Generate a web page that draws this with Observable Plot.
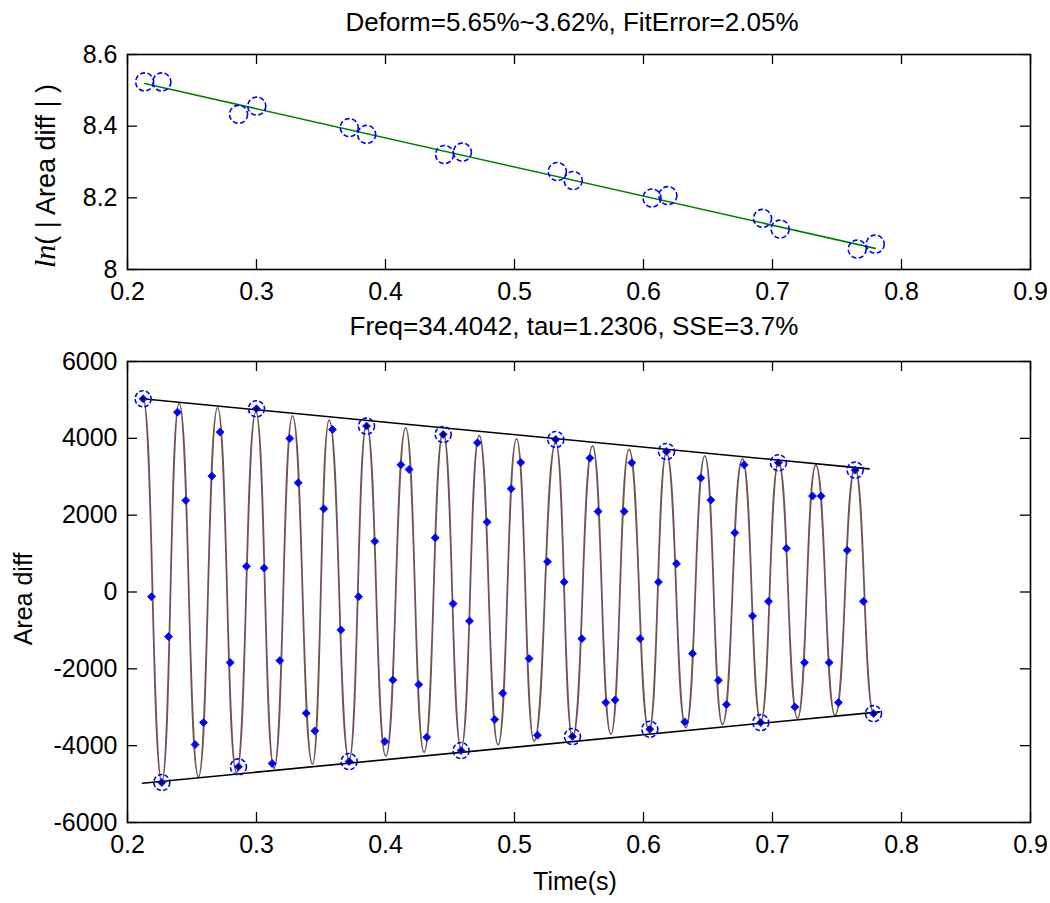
<!DOCTYPE html>
<html>
<head>
<meta charset="utf-8">
<script src="https://cdn.jsdelivr.net/npm/d3@7"></script>
<script src="https://cdn.jsdelivr.net/npm/@observablehq/plot@0.6"></script>
<style>
  html, body { margin: 0; padding: 0; background: #fff; }
  #wrap { position: relative; width: 1050px; height: 903px; background: #fff; overflow: hidden;
          font-family: Arial, "Liberation Sans", sans-serif; color: #000; }
  .abs { position: absolute; white-space: nowrap; line-height: 1; }
  .ctr { transform: translateX(-50%); }
  .rot { transform: translate(-50%, -50%) rotate(-90deg); }
  svg { overflow: visible; }
</style>
</head>
<body>
<div id="wrap">
  <div id="topPlot" class="abs" style="left:0;top:0"></div>
  <div id="botPlot" class="abs" style="left:0;top:312px"></div>
  <div class="abs ctr" style="left:572px;top:9px;font-size:26px">Deform=5.65%~3.62%, FitError=2.05%</div>
  <div class="abs ctr" style="left:574px;top:313px;font-size:26px">Freq=34.4042, tau=1.2306, SSE=3.7%</div>
  <div class="abs ctr" style="left:575px;top:869px;font-size:25px">Time(s)</div>
  <div class="abs rot" style="left:23px;top:599px;font-size:25px">Area diff</div>
  <div class="abs rot" style="left:45px;top:176px;font-size:27px"><span style="font-family:'Liberation Serif','DejaVu Serif',serif;font-style:italic;font-size:30px">ln</span>( | Area diff | )</div>
</div>
<script>
// ---------- axis ticks ----------
const xTicks = [0.2, 0.3, 0.4, 0.5, 0.6, 0.7, 0.8, 0.9];
const xTickLabels = ["0.2", "0.3", "0.4", "0.5", "0.6", "0.7", "0.8", "0.9"];
const lnTicks = [8, 8.2, 8.4, 8.6];
const lnTickLabels = ["8", "8.2", "8.4", "8.6"];
const areaTicks = [-6000, -4000, -2000, 0, 2000, 4000, 6000];
const areaTickLabels = ["-6000", "-4000", "-2000", "0", "2000", "4000", "6000"];

// ---------- top panel: ln(|Area diff|) at peaks ----------
const lnTime = [0.2133, 0.2266, 0.2861, 0.3002, 0.3719, 0.3854, 0.4458, 0.4596,
                0.5332, 0.5455, 0.6066, 0.6189, 0.6923, 0.7059, 0.7657, 0.7796];
const lnValue = [8.5235, 8.5235, 8.433, 8.456, 8.396, 8.377, 8.321, 8.3275,
                 8.2734, 8.2482, 8.1996, 8.2062, 8.1427, 8.1128, 8.0569, 8.0708];
const lnFitTime = [0.2133, 0.7796];
const lnFitValue = [8.519, 8.059];

// ---------- bottom panel: measured samples ----------
const sampleTime = [0.2121,0.2186,0.2266,0.2318,0.2387,0.2452,0.2524,0.2589,0.2654,0.2718,
  0.2796,0.2860,0.2922,0.3000,0.3059,0.3121,0.3181,0.3258,0.3323,0.3385,
  0.3452,0.3522,0.3589,0.3654,0.3718,0.3791,0.3853,0.3917,0.3995,0.4057,
  0.4119,0.4183,0.4258,0.4320,0.4385,0.4447,0.4524,0.4586,0.4651,0.4713,
  0.4788,0.4847,0.4909,0.4974,0.5049,0.5113,0.5178,0.5256,0.5320,0.5385,
  0.5449,0.5522,0.5584,0.5648,0.5708,0.5780,0.5850,0.5909,0.5974,0.6049,
  0.6116,0.6178,0.6256,0.6320,0.6380,0.6444,0.6522,0.6581,0.6643,0.6708,
  0.6780,0.6845,0.6909,0.6969,0.7046,0.7108,0.7173,0.7248,0.7310,0.7377,
  0.7439,0.7511,0.7579,0.7641,0.7705,0.7783];
const sampleValue = [5029,-121,-4959,-1162,4682,2384,-3971,-3399,3017,4162,
  -1838,-4552,668,4769,624,-4465,-1786,3997,2844,-3156,
  -3615,2168,4231,-988,-4413,-121,4318,1318,-3893,-2289,
  3312,3191,-2410,-3780,1413,4101,-303,-4127,-754,3884,
  1821,-3321,-2636,2688,3373,-1734,-3728,789,3971,260,
  -3763,-1214,3485,2098,-2878,-2809,2098,3364,-1214,-3572,
  260,3659,737,-3381,-1604,2965,2393,-2298,-2930,1543,
  3312,-624,-3399,-243,3364,1136,-2991,-1838,2497,2497,
  -1838,-2878,1084,3173,-243,-3165];

// circled peak samples
const peakTime = [0.2121, 0.2266, 0.2860, 0.3000, 0.3718, 0.3853, 0.4447, 0.4586,
                  0.5320, 0.5449, 0.6049, 0.6178, 0.6909, 0.7046, 0.7641, 0.7783];
const peakValue = [5029, -4959, -4552, 4769, -4413, 4318, 4101, -4127,
                   3971, -3763, -3572, 3659, -3399, 3364, 3173, -3165];

// fitted curve extrema (alternating maxima / minima)
const fitTime = [0.2121,0.2266,0.2400,0.2550,0.2698,0.2845,0.2995,0.3136,0.3279,0.3434,
  0.3563,0.3718,0.3853,0.4002,0.4157,0.4299,0.4447,0.4586,0.4726,0.4873,
  0.5016,0.5152,0.5320,0.5450,0.5605,0.5747,0.5888,0.6043,0.6178,0.6328,
  0.6475,0.6612,0.6767,0.6909,0.7047,0.7194,0.7336,0.7485,0.7640,0.7783];
const fitValue = [5030,-4928,4914,-4812,4801,-4699,4690,-4589,4582,-4481,
  4476,-4375,4373,-4273,4272,-4172,4174,-4074,4078,-3978,
  3984,-3885,3892,-3793,3802,-3704,3715,-3617,3629,-3532,
  3546,-3449,3464,-3368,3384,-3289,3306,-3211,3230,-3136];

// envelopes
const upperEnvTime = [0.2116, 0.7749];
const upperEnvValue = [5029, 3205];
const lowerEnvTime = [0.2116, 0.7830];
const lowerEnvValue = [-4977, -3120];

// ---------- helpers ----------
const W = 1050, ML = 127, MR = 20;
const FW = W - ML - MR;
const font = "Arial, 'Liberation Sans', sans-serif";
const zip = (xs, ys) => xs.map((x, i) => ({x, y: ys[i]}));

function frameMarks(yTicks, yLabels, FH) {
  return [
    Plot.axisX(xTicks, {tickSize: 0, tickPadding: 13, label: null, fontSize: 25,
      tickFormat: d => xTickLabels[xTicks.indexOf(d)]}),
    Plot.axisY(yTicks, {tickSize: 0, tickPadding: 10, label: null, fontSize: 25,
      tickFormat: d => yLabels[yTicks.indexOf(d)]}),
    Plot.tickX(xTicks, {x: d => d, stroke: "#000", strokeWidth: 1.3, insetTop: FH - 10}),
    Plot.tickX(xTicks, {x: d => d, stroke: "#000", strokeWidth: 1.3, insetBottom: FH - 10}),
    Plot.tickY(yTicks, {y: d => d, stroke: "#000", strokeWidth: 1.3, insetRight: FW - 10}),
    Plot.tickY(yTicks, {y: d => d, stroke: "#000", strokeWidth: 1.3, insetLeft: FW - 10}),
    Plot.frame({stroke: "#000", strokeWidth: 1.6})
  ];
}

// ---------- top plot ----------
const topH = 312, topMT = 54, topMB = 43;
const topPlot = Plot.plot({
  width: W, height: topH, marginLeft: ML, marginRight: MR, marginTop: topMT, marginBottom: topMB,
  style: {fontFamily: font, fontSize: "25px", color: "#000", background: "transparent", overflow: "visible"},
  x: {domain: [0.2, 0.9]},
  y: {domain: [8, 8.6]},
  marks: [
    ...frameMarks(lnTicks, lnTickLabels, topH - topMT - topMB),
    Plot.line(zip(lnFitTime, lnFitValue), {x: "x", y: "y", stroke: "#008000", strokeWidth: 1.6}),
    Plot.dot(zip(lnTime, lnValue), {x: "x", y: "y", r: 9, stroke: "#0000ff", strokeWidth: 1.6,
      strokeDasharray: "5,2.5", fill: "none"})
  ]
});
document.getElementById("topPlot").appendChild(topPlot);

// ---------- bottom plot ----------
const botH = 560, botMT = 49, botMB = 50;
const botPlot = Plot.plot({
  width: W, height: botH, marginLeft: ML, marginRight: MR, marginTop: botMT, marginBottom: botMB,
  style: {fontFamily: font, fontSize: "25px", color: "#000", background: "transparent", overflow: "visible"},
  x: {domain: [0.2, 0.9]},
  y: {domain: [-6000, 6000]},
  marks: [
    ...frameMarks(areaTicks, areaTickLabels, botH - botMT - botMB),
    Plot.line(zip(fitTime, fitValue), {x: "x", y: "y", curve: "bump-x", stroke: "#6f5450", strokeWidth: 1.8}),
    Plot.line(zip(upperEnvTime, upperEnvValue), {x: "x", y: "y", stroke: "#000", strokeWidth: 1.6}),
    Plot.line(zip(lowerEnvTime, lowerEnvValue), {x: "x", y: "y", stroke: "#000", strokeWidth: 1.6}),
    Plot.dot(zip(sampleTime, sampleValue), {x: "x", y: "y", symbol: "diamond2", r: 3.6, fill: "#0000ff", stroke: "#0000ff", strokeWidth: 0.8}),
    Plot.dot(zip(peakTime, peakValue), {x: "x", y: "y", r: 8, stroke: "#0000ff", strokeWidth: 1.6,
      strokeDasharray: "4.5,2.2", fill: "none"}),
    Plot.dot(zip(peakTime, peakValue), {x: "x", y: "y", r: 1.6, fill: "#000", stroke: "none"})
  ]
});
document.getElementById("botPlot").appendChild(botPlot);
</script>
</body>
</html>
